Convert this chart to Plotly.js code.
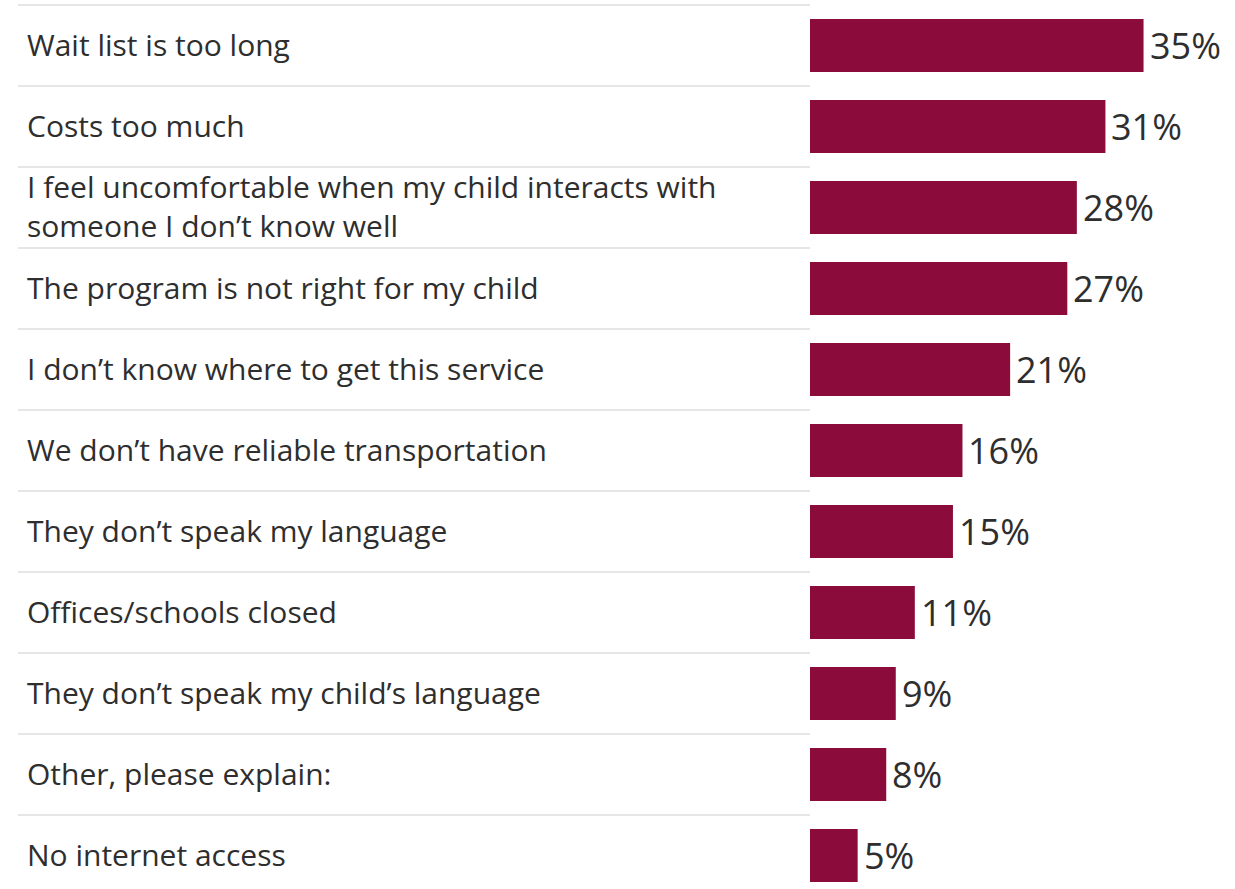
<!DOCTYPE html>
<html>
<head>
<meta charset="utf-8">
<script src="https://cdn.plot.ly/plotly-3.0.1.min.js"></script>
<style>
  html, body { margin: 0; padding: 0; background: #ffffff; }
  #chart { width: 1235px; height: 889px; }
</style>
</head>
<body>
<div id="chart"></div>
<script>
// Data
const categories = [
  "Wait list is too long",
  "Costs too much",
  "I feel uncomfortable when my child interacts with<br>someone I don’t know well",
  "The program is not right for my child",
  "I don’t know where to get this service",
  "We don’t have reliable transportation",
  "They don’t speak my language",
  "Offices/schools closed",
  "They don’t speak my child’s language",
  "Other, please explain:",
  "No internet access"
];
const percentages = [35, 31, 28, 27, 21, 16, 15, 11, 9, 8, 5];

const W = 1235, H = 889;
const rowPx = 81;
const topLinePx = 5;
const barStartPx = 810;
const pxPerUnit = 9.53;

const yTop = -0.5 - topLinePx / rowPx;
const yBottom = yTop + H / rowPx;

const barColor = "#8b0b3a";
const textColor = "#2e2e2e";
const fontFamily = "'Open Sans', 'Noto Sans', sans-serif";

const trace = {
  type: "bar",
  orientation: "h",
  x: percentages,
  y: categories,
  width: 53 / rowPx,
  marker: { color: barColor, line: { width: 0 } },
  hoverinfo: "skip"
};

const annotations = [];
categories.forEach((c, i) => {
  annotations.push({
    xref: "paper", yref: "y",
    x: 25 / W, y: c,
    text: c,
    xanchor: "left", yanchor: "middle",
    align: "left",
    yshift: 1.5,
    showarrow: false,
    font: { family: fontFamily, size: 30, color: textColor }
  });
  annotations.push({
    xref: "x", yref: "y",
    x: percentages[i], y: c,
    text: percentages[i] + "%",
    xanchor: "left", yanchor: "middle",
    xshift: 4,
    showarrow: false,
    font: { family: fontFamily, size: 36, color: textColor }
  });
});

const shapes = [];
for (let k = 0; k < categories.length; k++) {
  shapes.push({
    type: "line",
    xref: "paper", yref: "y",
    x0: 18 / W, x1: barStartPx / W,
    y0: k - 0.5, y1: k - 0.5,
    line: { color: "#e6e6e6", width: 2 }
  });
}

const layout = {
  width: W, height: H,
  margin: { l: 0, r: 0, t: 0, b: 0, pad: 0 },
  paper_bgcolor: "#ffffff",
  plot_bgcolor: "#ffffff",
  showlegend: false,
  xaxis: {
    domain: [barStartPx / W, 1],
    range: [0, (W - barStartPx) / pxPerUnit],
    visible: false,
    fixedrange: true
  },
  yaxis: {
    type: "category",
    categoryorder: "array",
    categoryarray: categories,
    range: [yBottom, yTop],
    visible: false,
    fixedrange: true
  },
  shapes: shapes,
  annotations: annotations
};

Plotly.newPlot("chart", [trace], layout, { displayModeBar: false, staticPlot: true });
</script>
</body>
</html>
